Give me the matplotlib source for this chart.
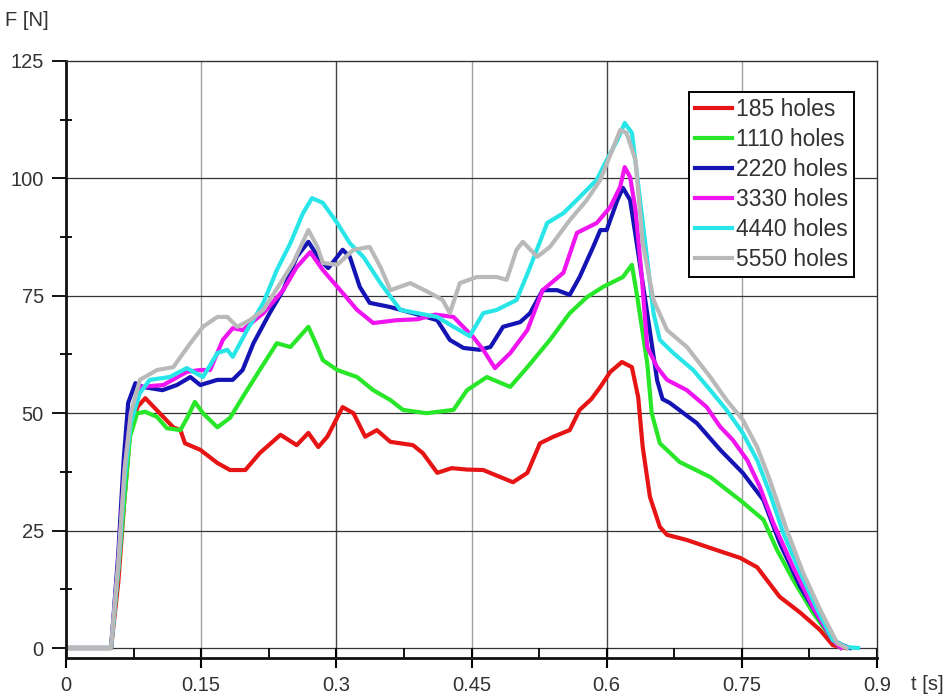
import numpy as np
import matplotlib
matplotlib.use('Agg')
import matplotlib.pyplot as plt
from matplotlib.ticker import MultipleLocator

plt.rcParams['font.family'] = ['Liberation Sans', 'DejaVu Sans']

# force F [N] over time t [s]
red_t = [0, 0.05, 0.058, 0.065, 0.072, 0.08, 0.088, 0.104, 0.119, 0.127, 0.132, 0.149, 0.168, 0.182,
         0.199, 0.215, 0.238, 0.256, 0.269, 0.28, 0.29, 0.307, 0.319, 0.332, 0.345, 0.36, 0.385, 0.396,
         0.412, 0.428, 0.445, 0.463, 0.482, 0.496, 0.512, 0.526, 0.541, 0.559, 0.570, 0.583, 0.593, 0.604,
         0.617, 0.628, 0.635, 0.640, 0.648, 0.659, 0.667, 0.689, 0.715, 0.748, 0.767, 0.792, 0.815, 0.837,
         0.851, 0.865]
red_f = [0, 0, 14, 32, 48, 51.5, 53.2, 50, 47, 46.4, 43.6, 42.2, 39.4, 37.9,
         37.9, 41.5, 45.4, 43.2, 45.8, 42.8, 45, 51.3, 50, 45, 46.4, 43.9, 43.2, 41.5,
         37.3, 38.3, 38, 37.9, 36.4, 35.3, 37.3, 43.6, 45, 46.4, 50.7, 53, 55.6, 58.8,
         60.9, 59.8, 53.4, 42.8, 32.2, 25.8, 24.1, 23, 21.3, 19.2, 17.2, 10.9, 7.5, 3.8,
         0.6, 0]

green_t = [0, 0.05, 0.058, 0.065, 0.071, 0.079, 0.088, 0.101, 0.112, 0.127, 0.135, 0.143, 0.152, 0.168,
           0.182, 0.196, 0.215, 0.234, 0.249, 0.269, 0.279, 0.285, 0.301, 0.323, 0.341, 0.36, 0.374, 0.4,
           0.43, 0.445, 0.467, 0.493, 0.512, 0.537, 0.559, 0.578, 0.596, 0.618, 0.628, 0.634, 0.645, 0.650,
           0.659, 0.681, 0.715, 0.748, 0.774, 0.789, 0.807, 0.829, 0.851, 0.86]
green_f = [0, 0, 16.6, 32, 45, 50, 50.3, 49.2, 46.8, 46.4, 49.2, 52.4, 50, 47,
           49, 53.4, 59.2, 64.9, 64.1, 68.4, 64.1, 61.3, 59.2, 57.7, 54.9, 52.8, 50.7, 50,
           50.7, 54.9, 57.7, 55.6, 59.8, 65.6, 71.3, 74.7, 76.9, 79, 81.6, 74.7, 60.7, 50,
           43.6, 39.6, 36.4, 31.5, 27.3, 20.9, 14.5, 7.5, 1.7, 0]

blue_t = [0, 0.05, 0.058, 0.064, 0.069, 0.077, 0.085, 0.107, 0.123, 0.138, 0.149, 0.168, 0.185, 0.196,
          0.208, 0.226, 0.241, 0.256, 0.269, 0.282, 0.291, 0.301, 0.307, 0.315, 0.326, 0.337, 0.36, 0.385,
          0.412, 0.426, 0.441, 0.459, 0.471, 0.485, 0.504, 0.515, 0.529, 0.545, 0.559, 0.570, 0.585, 0.593,
          0.6, 0.612, 0.618, 0.626, 0.634, 0.645, 0.656, 0.662, 0.67, 0.7, 0.726, 0.751, 0.774, 0.792,
          0.815, 0.837, 0.851, 0.862, 0.87]
blue_f = [0, 0, 20, 40, 52.2, 56.4, 55.6, 54.9, 56, 57.7, 56, 57.1, 57.1, 59.2,
          64.9, 71.3, 76.2, 83.3, 86.5, 82.6, 80.9, 83.3, 84.8, 83.3, 76.9, 73.5, 72.6, 71.3,
          69.8, 65.6, 63.9, 63.5, 64.1, 68.4, 69.4, 71.3, 76.2, 76.2, 75.2, 79, 85.4, 89,
          89, 95.4, 98, 95.4, 85.4, 71.3, 57, 53, 52.2, 47.9, 42.2, 37.3, 31.5, 22.4,
          13, 6, 1.7, 0.6, 0]

mag_t = [0, 0.05, 0.058, 0.065, 0.072, 0.082, 0.108, 0.134, 0.149, 0.16, 0.174, 0.185, 0.196, 0.219,
         0.241, 0.256, 0.271, 0.285, 0.307, 0.323, 0.341, 0.367, 0.39, 0.41, 0.43, 0.452, 0.463, 0.476,
         0.493, 0.512, 0.529, 0.552, 0.567, 0.589, 0.604, 0.615, 0.62, 0.626, 0.632, 0.639, 0.645, 0.656,
         0.667, 0.689, 0.711, 0.726, 0.74, 0.756, 0.77, 0.785, 0.807, 0.829, 0.851, 0.86]
mag_f = [0, 0, 18, 38, 50, 55.6, 56, 58.8, 59.2, 59.2, 65.6, 68.1, 67.7, 71.3,
         76.2, 81.1, 84.3, 80.5, 75.6, 72, 69.2, 69.8, 70, 71, 70.5, 66.2, 63.5, 59.6,
         62.8, 67.7, 76.2, 79.9, 88.4, 90.5, 93.9, 98.2, 102.4, 100.3, 93.3, 79, 64.1, 59.8,
         57.1, 54.9, 51.3, 47.1, 44.3, 40, 34.3, 26.6, 17.2, 8.7, 1.7, 0]

cyan_t = [0, 0.05, 0.058, 0.065, 0.072, 0.082, 0.093, 0.115, 0.134, 0.152, 0.168, 0.179, 0.185, 0.201,
          0.219, 0.234, 0.249, 0.263, 0.273, 0.285, 0.301, 0.315, 0.33, 0.349, 0.371, 0.39, 0.412, 0.43,
          0.448, 0.463, 0.478, 0.5, 0.515, 0.534, 0.552, 0.57, 0.589, 0.6, 0.612, 0.62, 0.628, 0.634,
          0.645, 0.652, 0.659, 0.674, 0.696, 0.715, 0.733, 0.751, 0.767, 0.781, 0.796, 0.815, 0.834, 0.851,
          0.866, 0.879]
cyan_f = [0, 0, 17, 36, 48, 54.3, 57.1, 57.7, 59.6, 57.7, 62.8, 63.5, 62, 67.7,
          73.5, 80.5, 86.2, 92.6, 95.8, 94.8, 90.5, 86.2, 83.3, 77.7, 72, 71.3, 70.5, 68.4,
          66.4, 71.3, 72, 74.1, 81.1, 90.5, 92.6, 96, 99.7, 103.9, 108.2, 111.8, 109.7, 100.3,
          82.6, 71.3, 65.6, 62.8, 59.2, 54.9, 50.7, 45.8, 40, 33, 24.5, 16, 8.1, 1.7,
          0.2, 0]

gray_t = [0, 0.05, 0.058, 0.065, 0.072, 0.082, 0.101, 0.119, 0.138, 0.152, 0.168, 0.179, 0.19, 0.204,
          0.219, 0.238, 0.252, 0.269, 0.279, 0.285, 0.301, 0.319, 0.337, 0.349, 0.36, 0.382, 0.404, 0.418,
          0.426, 0.437, 0.456, 0.478, 0.489, 0.5, 0.507, 0.523, 0.537, 0.559, 0.578, 0.593, 0.615, 0.622,
          0.632, 0.64, 0.652, 0.667, 0.689, 0.715, 0.733, 0.751, 0.767, 0.781, 0.8, 0.818, 0.837, 0.856,
          0.866]
gray_f = [0, 0, 18, 38, 50, 57.1, 59.2, 59.8, 64.9, 68.4, 70.5, 70.5, 68.4, 69.8,
          72, 77.7, 82, 89, 85.4, 82, 81.6, 84.8, 85.4, 81.1, 76.2, 77.7, 75.6, 74.1,
          71.3, 77.7, 79, 79, 78.4, 84.8, 86.5, 83.3, 85.4, 91.1, 95.4, 99.7, 110.3, 109.7,
          103.9, 86.2, 74.1, 67.7, 64.1, 57.7, 52.8, 48.6, 42.8, 35.8, 25.1, 16, 8.1, 1,
          0]

labels = ['185 holes', '1110 holes', '2220 holes', '3330 holes', '4440 holes', '5550 holes']
colors = ['#e61414', '#28e628', '#1414b4', '#f014f0', '#28e6e8', '#b9b9b9']
series = [(red_t, red_f), (green_t, green_f), (blue_t, blue_f),
          (mag_t, mag_f), (cyan_t, cyan_f), (gray_t, gray_f)]

txt = '#333333'

fig = plt.figure(figsize=(9.44, 6.99), dpi=100)
ax = fig.add_axes([66 / 944, 1 - 658 / 699, 811 / 944, 597 / 699])

for (t, f), c, lab in zip(series, colors, labels):
    ax.plot(t, f, color=c, lw=3.0, label=lab, solid_joinstyle='round')

ax.set_xlim(0, 0.9)
ax.set_ylim(-10 / 4.696, 125)

ax.xaxis.set_major_locator(MultipleLocator(0.15))
ax.xaxis.set_minor_locator(MultipleLocator(0.075))
ax.yaxis.set_major_locator(MultipleLocator(25))
ax.yaxis.set_minor_locator(MultipleLocator(12.5))
ax.xaxis.set_major_formatter(plt.FuncFormatter(lambda v, p: '0' if abs(v) < 1e-9 else ('%.2f' % v).rstrip('0')))

ax.tick_params(axis='x', which='major', direction='inout', length=14, width=1.5,
               labelsize=14.5, labelcolor=txt, pad=6)
ax.tick_params(axis='x', which='minor', direction='in', length=7, width=1.3)
ax.tick_params(axis='y', which='major', direction='out', length=10, width=1.3,
               labelsize=14.5, labelcolor=txt, pad=6)
ax.tick_params(axis='y', which='minor', direction='inout', length=8, width=1.3)

# grid
for v in [0.15, 0.3, 0.45, 0.6, 0.75]:
    gc = '#444444' if v in (0.3, 0.6) else '#a0a0a0'
    ax.axvline(v, color=gc, lw=1.0, zorder=0.5)
for v in [0, 25, 50, 75, 100]:
    ax.axhline(v, color='#333333', lw=0.9, zorder=0.5)

for side in ['left', 'bottom']:
    ax.spines[side].set_linewidth(2.0)
    ax.spines[side].set_color('#111111')
for side in ['top', 'right']:
    ax.spines[side].set_linewidth(1.0)
    ax.spines[side].set_color('#333333')

leg = ax.legend(loc='upper right', bbox_to_anchor=(0.972, 0.948), fontsize=16.5,
                frameon=True, fancybox=False, framealpha=1, edgecolor='black',
                handlelength=1.6, handletextpad=0.2, labelspacing=0.31, borderpad=0.25,
                borderaxespad=0)
leg.get_frame().set_linewidth(1.4)
for tx in leg.get_texts():
    tx.set_color(txt)

fig.text(5 / 944, 1 - 20 / 699, 'F [N]', fontsize=14.5, color=txt, va='center', ha='left')
fig.text(911 / 944, 1 - 685 / 699, 't [s]', fontsize=14.5, color=txt, va='center', ha='left')

fig.savefig('out.png', dpi=100)
